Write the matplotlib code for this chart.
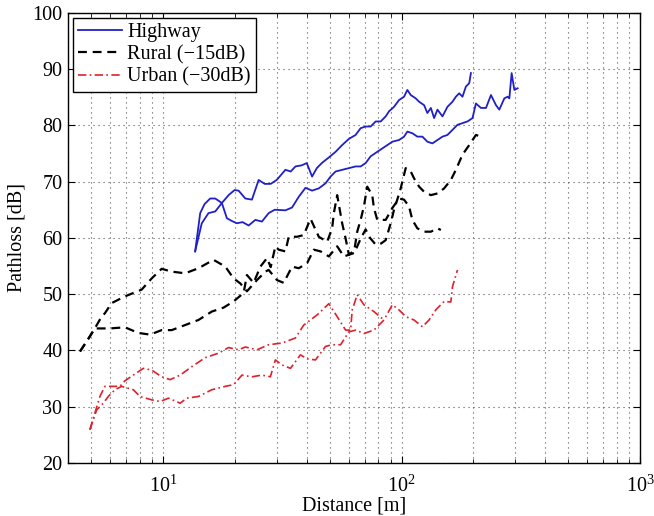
import numpy as np
import matplotlib
matplotlib.use("Agg")
import matplotlib.pyplot as plt

plt.rcParams['font.family'] = ['Liberation Serif', 'DejaVu Serif']
plt.rcParams['mathtext.fontset'] = 'stix'

# Highway, two measurement runs
hw1_d = [13.64, 14.54, 15.51, 16.56, 17.65, 18.83, 19.95, 20.74, 22.13, 23.59,
         25.17, 26.67, 28.27, 29.96, 32.59, 34.30, 35.90, 38.15, 40.04, 42.15,
         44.11, 46.29, 49.55, 52.87, 56.34, 60.12, 64.14, 67.33, 70.67, 74.17,
         77.85, 81.71, 85.77, 88.55, 92.92, 97.5, 102.35, 105.7, 109.2, 114.6,
         118.4, 124.2, 128.2, 132.6, 136.8, 141.3, 148.3, 155.6, 163.3, 168.8,
         174.3, 179.9, 185.9, 192.0, 195.1]
hw1_pl = [57.6, 62.6, 64.4, 64.7, 66.2, 67.6, 68.5, 68.4, 67.0, 66.8,
          70.3, 69.6, 69.6, 70.3, 72.1, 71.8, 72.7, 72.9, 73.3, 70.9,
          72.4, 73.3, 74.3, 75.3, 76.5, 77.6, 78.3, 79.5, 79.8, 79.8,
          80.7, 80.7, 81.6, 82.5, 83.3, 84.5, 85.1, 86.3, 85.4, 84.8,
          84.2, 83.6, 82.2, 83.1, 81.3, 82.8, 81.6, 83.3, 84.2, 85.1,
          85.7, 85.1, 86.9, 87.5, 89.3]

hw2_d = [13.64, 14.32, 14.93, 15.77, 16.56, 17.65, 18.52, 19.44, 20.40, 21.56,
         22.85, 24.38, 25.98, 27.72, 29.38, 32.59, 34.74, 37.06, 39.55, 42.15,
         44.97, 47.99, 50.37, 52.87, 56.34, 60.12, 64.14, 67.33, 70.67, 74.17,
         79.07, 82.98, 87.10, 91.42, 97.5, 102.35, 105.7, 110.9, 116.4, 122.2,
         128.2, 134.6, 141.3, 148.3, 155.6, 163.3, 171.4, 179.9, 188.8, 198.2,
         204.8, 215.0, 225.7, 236.8, 248.5, 256.6, 269.4, 278.1, 282.7, 289.1,
         296.7, 306.3]
hw2_pl = [57.6, 64.4, 66.0, 67.0, 67.0, 66.2, 63.5, 63.0, 62.6, 62.8,
          62.2, 63.2, 62.9, 64.4, 65.0, 64.9, 65.4, 67.3, 68.9, 68.4,
          68.8, 69.7, 70.9, 71.8, 72.1, 72.4, 72.7, 72.7, 73.3, 74.5,
          75.3, 75.9, 76.5, 77.1, 77.4, 78.0, 78.9, 78.6, 78.0, 78.0,
          77.1, 76.8, 77.4, 78.0, 78.3, 79.2, 80.1, 80.4, 80.7, 81.3,
          83.9, 83.1, 83.1, 85.4, 83.6, 82.8, 84.8, 85.1, 84.8, 89.3,
          86.3, 86.6]

# Rural (-15dB)
ru1_d = [4.49, 4.94, 5.18, 5.53, 5.71, 6.09, 6.93, 8.14, 8.97, 9.87,
         10.88, 12.38, 14.08, 16.28, 18.24, 19.76, 21.09, 22.48, 23.59, 24.77,
         26.85, 27.72, 30.04, 32.05, 34.74, 37.06, 40.16, 42.86, 45.72, 49.55,
         53.70, 57.28, 63.10, 65.15, 67.33, 69.5, 71.76, 75.32, 76.56, 79.07,
         85.77, 91.42, 97.5, 102.35, 107.4, 110.9, 116.4, 124.2, 132.6, 141.3,
         146.0]
ru1_pl = [39.8, 42.5, 43.9, 46.0, 46.6, 48.4, 49.6, 50.8, 52.8, 54.5,
          54.0, 53.7, 54.6, 56.1, 54.9, 52.8, 51.9, 50.5, 51.5, 52.5,
          54.0, 54.3, 52.5, 52.0, 54.9, 54.6, 55.5, 57.9, 57.6, 56.7,
          58.5, 56.7, 57.3, 61.1, 63.2, 65.6, 69.1, 67.6, 65.3, 63.2,
          63.2, 65.3, 67.0, 66.8, 65.6, 63.2, 61.7, 61.1, 61.1, 61.7,
          61.4]

ru2_d = [4.49, 4.86, 5.18, 5.53, 6.00, 6.93, 7.88, 8.83, 9.87, 10.88,
         12.38, 14.08, 16.02, 17.94, 19.76, 21.77, 22.48, 23.98, 25.6, 27.28,
         28.27, 29.58, 30.54, 32.59, 33.65, 36.46, 38.89, 41.51, 44.97, 48.73,
         51.15, 52.0, 53.70, 56.34, 58.24, 60.12, 64.4, 67.6, 70.67, 73.7,
         77.85, 82.0, 85.77, 90.0, 92.92, 95.9, 99.1, 102.35, 104.0, 109.2,
         112.7, 118.4, 124.2, 132.6, 141.3, 150.7, 160.8, 168.8, 179.9, 192.0,
         204.8, 211.4]
ru2_pl = [39.8, 42.0, 43.9, 43.9, 43.9, 44.1, 43.1, 42.8, 43.6, 43.6,
          44.5, 45.4, 46.9, 47.6, 48.7, 50.2, 53.4, 52.0, 54.9, 56.4,
          54.8, 58.5, 57.9, 57.6, 60.2, 60.2, 60.5, 63.4, 60.2, 59.3,
          61.7, 64.4, 67.6, 62.6, 59.9, 57.0, 58.0, 60.0, 61.5, 60.0,
          58.8, 59.0, 59.6, 62.6, 65.0, 66.8, 68.8, 71.2, 72.4, 71.8,
          70.6, 69.1, 68.2, 67.6, 67.9, 68.8, 70.3, 72.1, 74.8, 76.5,
          78.3, 78.1]

# Urban (-30dB)
ur1_d = [4.94, 5.18, 5.44, 5.71, 6.19, 6.60, 6.93, 7.63, 8.27, 8.97,
         9.87, 10.71, 11.80, 13.20, 15.03, 17.09, 18.83, 20.74, 22.13, 24.77,
         27.72, 31.53, 35.90, 38.89, 44.24, 49.55, 53.70, 58.24, 61.1, 62.09,
         65.15, 69.5, 76.56, 84.33]
ur1_pl = [25.9, 28.8, 31.8, 33.6, 33.6, 33.6, 34.6, 35.8, 36.8, 36.5,
          35.3, 34.8, 35.6, 37.1, 38.7, 39.5, 40.5, 40.1, 40.6, 40.1,
          41.0, 41.3, 42.2, 44.5, 46.3, 48.3, 46.0, 43.6, 43.6, 47.2,
          49.9, 48.1, 46.9, 45.4]

ur2_d = [4.94, 5.27, 5.62, 5.90, 6.29, 6.71, 7.51, 8.01, 8.97, 9.72,
         10.54, 11.24, 11.80, 12.58, 14.08, 16.02, 18.24, 19.76, 21.42, 23.59,
         25.98, 28.18, 29.58, 31.53, 34.20, 37.67, 40.16, 43.55, 47.99, 51.15,
         55.49, 60.12, 64.3, 69.5, 76.56, 84.33, 91.42, 97.5, 104.0, 112.7,
         122.2, 130.3, 139.1, 150.7, 160.8, 163.3, 171.4]
ur2_pl = [25.9, 29.4, 30.6, 31.8, 33.0, 33.6, 33.0, 31.8, 31.2, 30.9,
          31.5, 31.0, 30.6, 31.5, 31.8, 33.0, 33.6, 33.9, 35.6, 35.3,
          35.6, 35.3, 38.3, 37.4, 36.8, 39.2, 38.5, 38.3, 40.7, 41.0,
          41.0, 43.3, 43.6, 43.0, 43.6, 45.4, 48.1, 47.2, 46.0, 45.4,
          44.2, 45.4, 47.2, 48.7, 48.6, 51.3, 54.3]

blue = '#2020c8'
red = '#e0202a'
fs = 14.5
grid_ls = (0, (1, 3.5))

fig = plt.figure(figsize=(6.54, 5.16), dpi=100)
ax = fig.add_axes([0.104, 0.103, 0.875, 0.872])

ax.semilogx(hw1_d, hw1_pl, color=blue, lw=1.3, label='Highway')
ax.semilogx(hw2_d, hw2_pl, color=blue, lw=1.3)
ax.semilogx(ru1_d, ru1_pl, color='black', lw=1.6, ls=(0, (4, 2.6)), label='Rural (\u221215dB)')
ax.semilogx(ru2_d, ru2_pl, color='black', lw=1.6, ls=(0, (4, 2.6)))
ax.semilogx(ur1_d, ur1_pl, color=red, lw=1.2, ls=(0, (5, 2, 1, 2)), label='Urban (\u221230dB)')
ax.semilogx(ur2_d, ur2_pl, color=red, lw=1.2, ls=(0, (5, 2, 1, 2)))

ax.set_xlim(4, 1000)
ax.set_ylim(20, 100)
ax.set_yticks(np.arange(20, 101, 10))
ax.grid(True, which='both', axis='x', ls=grid_ls, color='#555555', lw=0.8)
ax.grid(True, which='major', axis='y', ls=grid_ls, color='#555555', lw=0.8)
ax.tick_params(which='both', direction='in', top=True, right=True, labelsize=fs)
ax.tick_params(which='major', length=5, pad=4)
ax.tick_params(axis='x', which='major', pad=9)
ax.tick_params(which='minor', length=3)
for s in ax.spines.values():
    s.set_linewidth(1.0)

ax.set_xlabel('Distance [m]', fontsize=fs, labelpad=0)
ax.set_ylabel('Pathloss [dB]', fontsize=fs, labelpad=4)

leg = ax.legend(loc='upper left', fontsize=fs, fancybox=False, framealpha=1,
                edgecolor='black', handlelength=2.2, borderpad=0.25,
                labelspacing=0.15, handletextpad=0.25, borderaxespad=0.25)
leg.get_frame().set_linewidth(1.0)

fig.savefig('out.png', dpi=100)
